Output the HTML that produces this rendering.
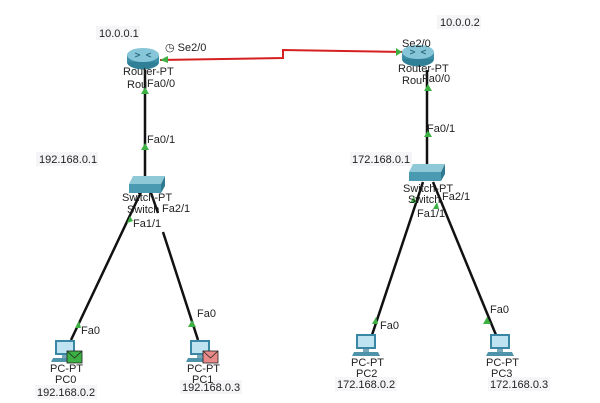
<!DOCTYPE html>
<html><head><meta charset="utf-8"><style>
html,body{margin:0;padding:0;background:#fff;}
svg{display:block;}
text{font-family:"Liberation Sans",sans-serif;font-size:11px;fill:#222;}
.bg{fill:#f5f5f7;}
</style></head><body>
<svg width="600" height="403" viewBox="0 0 600 403" xmlns="http://www.w3.org/2000/svg">
<defs>
<g id="router">
<ellipse cx="0" cy="7" rx="16" ry="7.5" fill="#2f7f96"/>
<rect x="-16" y="0" width="32" height="7" fill="#3b8ea6"/>
<ellipse cx="0" cy="0" rx="16" ry="7" fill="#86c6d8"/>
<path d="M-8,-2 L-3,0 M8,-2 L3,0 M-8,2 L-3,0 M8,2 L3,0" stroke="#2d6f82" stroke-width="1"/>
</g>
<g id="switch">
<polygon points="-13,-7 19,-7 15,1 -17,1" fill="#8fc9d8"/>
<polygon points="15,1 19,-7 19,3 15,10" fill="#2f7a90"/>
<rect x="-17" y="1" width="32" height="9" fill="#4a9bb2"/>
</g>
<g id="pc">
<rect x="-10" y="-10" width="20" height="15" fill="#3a86a5"/>
<rect x="-8" y="-8" width="16" height="11" fill="#bfe3f0"/>
<rect x="-3" y="5" width="6" height="3" fill="#7aa7b8"/>
<polygon points="-12,8 12,8 14,12 -14,12" fill="#4f93ab"/>
</g>
</defs>

<polyline points="160,60 283,58 283,50 405,52" fill="none" stroke="#d42020" stroke-width="2"/>
<polygon points="160,60 168,56 168,63" fill="#3cb043"/>
<polygon points="402,52 396,48 396,56" fill="#3cb043"/>

<g stroke="#111" stroke-width="2.5" fill="none">
<line x1="145" y1="70" x2="145" y2="180"/>
<line x1="142" y1="190" x2="71" y2="340"/>
<line x1="150" y1="190" x2="158" y2="213"/>
<line x1="163" y1="232" x2="198" y2="340"/>
<line x1="427" y1="70" x2="427" y2="168"/>
<line x1="423" y1="182" x2="372" y2="335"/>
<line x1="433" y1="182" x2="496" y2="335"/>
</g>
<g fill="#3cb043">
<polygon points="145,87 141,94 149,94"/>
<polygon points="145,143 141,150 149,150"/>
<polygon points="428,84 424,91 432,91"/>
<polygon points="428,130 424,137 432,137"/>
<polygon points="130,216 127,223 133,221"/>
<polygon points="79,321 75,328 81,328"/>
<polygon points="192,320 188,327 196,327"/>
<polygon points="414,196 410,203 416,203"/>
<polygon points="376,317 372,324 378,324"/>
<polygon points="487,317 483,324 491,324"/>
<polygon points="437,202 433,209 439,209"/>
</g>

<use href="#router" x="143" y="55"/>
<use href="#router" x="418" y="52"/>
<use href="#switch" x="146" y="183"/>
<use href="#switch" x="426" y="171"/>
<use href="#pc" x="65" y="350"/>
<use href="#pc" x="200" y="350"/>
<use href="#pc" x="366" y="344"/>
<use href="#pc" x="500" y="344"/>
<rect x="67" y="351" width="15" height="12" fill="#3cb043" stroke="#222" stroke-width="0.8"/>
<polyline points="67,351 74.5,358 82,351" fill="none" stroke="#222" stroke-width="0.8"/>
<rect x="203" y="351" width="15" height="12" fill="#e88a88" stroke="#222" stroke-width="0.8"/>
<polyline points="203,351 210.5,358 218,351" fill="none" stroke="#222" stroke-width="0.8"/>

<rect class="bg" x="96" y="26" width="44" height="14"/><text x="99" y="37">10.0.0.1</text>
<rect class="bg" x="437" y="15" width="44" height="14"/><text x="440" y="26">10.0.0.2</text>
<rect class="bg" x="36" y="152" width="62" height="14"/><text x="39" y="163">192.168.0.1</text>
<rect class="bg" x="350" y="152" width="62" height="14"/><text x="352" y="163">172.168.0.1</text>
<rect class="bg" x="35" y="385" width="62" height="14"/><text x="37" y="396">192.168.0.2</text>
<rect class="bg" x="180" y="380" width="62" height="14"/><text x="182" y="391">192.168.0.3</text>
<rect class="bg" x="335" y="377" width="62" height="14"/><text x="337" y="388">172.168.0.2</text>
<rect class="bg" x="488" y="377" width="62" height="14"/><text x="490" y="388">172.168.0.3</text>

<text x="165" y="51">◷ Se2/0</text>
<text x="402" y="47">Se2/0</text>
<text x="123" y="75">Router-PT</text>
<text x="127" y="88">Rou</text>
<text x="147" y="87">Fa0/0</text>
<text x="398" y="72">Router-PT</text>
<text x="402" y="84">Rou</text>
<text x="422" y="82">Fa0/0</text>
<text x="147" y="143">Fa0/1</text>
<text x="427" y="132">Fa0/1</text>
<text x="122" y="201">Switch-PT</text>
<text x="127" y="213">Switch</text>
<text x="162" y="212">Fa2/1</text>
<text x="133" y="227">Fa1/1</text>
<text x="403" y="192">Switch-PT</text>
<text x="408" y="203">Switch</text>
<text x="442" y="200">Fa2/1</text>
<text x="417" y="217">Fa1/1</text>
<text x="81" y="334">Fa0</text>
<text x="197" y="317">Fa0</text>
<text x="380" y="329">Fa0</text>
<text x="490" y="313">Fa0</text>
<text x="50" y="372">PC-PT</text>
<text x="55" y="383">PC0</text>
<text x="187" y="372">PC-PT</text>
<text x="192" y="383">PC1</text>
<text x="351" y="366">PC-PT</text>
<text x="356" y="377">PC2</text>
<text x="486" y="366">PC-PT</text>
<text x="491" y="377">PC3</text>
</svg>
</body></html>
